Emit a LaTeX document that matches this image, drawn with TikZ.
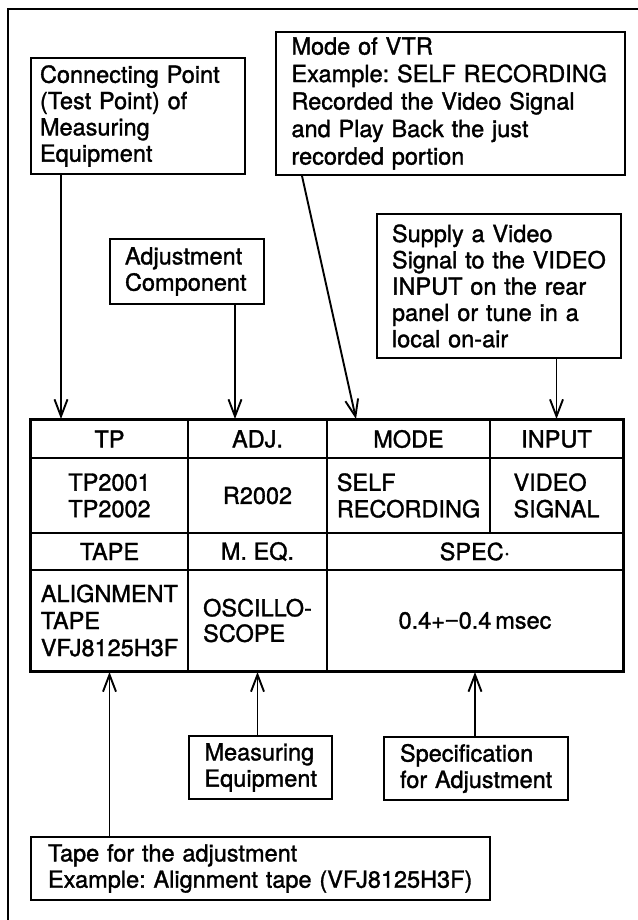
\documentclass[tikz,border=0pt]{standalone}
\usepackage{fontspec}
\setmainfont{TeX Gyre Heros}[FakeBold=1.4]
\newfontfamily\minusfont{Liberation Sans}[FakeBold=1.4]
\usetikzlibrary{arrows.meta}
\tikzset{
  lbl/.style={draw, line width=2pt, inner sep=0pt, align=left,
    font=\fontsize{23.5}{26.3}\selectfont},
  cell/.style={draw, line width=2pt, inner sep=0pt, align=left,
    font=\fontsize{23.5}{26.5}\selectfont},
  arr/.style={line width=1.9pt, -{Straight Barb[length=17pt,width=13pt,line width=1.9pt]}},
  frame/.style={line width=2pt}
}
\begin{document}
\frenchspacing
\begin{tikzpicture}[x=1pt,y=-1pt]
\useasboundingbox (0,0) rectangle (637,920);
\fill[white] (0,0) rectangle (637,920);
\draw[frame] (7.5,925) -- (7.5,9) -- (642,9);

% ---- label boxes (top)
\node[lbl, minimum width=214pt, minimum height=116pt, text width=196pt] (conn) at (138,116)
  {\mbox{Connecting Point}\\\mbox{(Test Point) of}\\Measuring\\Equipment};
\node[lbl, minimum width=349pt, minimum height=143pt, text width=318pt,
  font=\fontsize{23.5}{27.5}\selectfont] (vtr) at (450.5,103.5)
  {\mbox{Mode of VTR}\\\mbox{Example: SELF RECORDING}\\\mbox{Recorded the Video Signal}\\\mbox{and Play Back the just}\\\mbox{recorded portion}};
\node[lbl, minimum width=154pt, minimum height=65pt, text width=124pt] (adjbox) at (187,271.5)
  {\mbox{Adjustment}\\\mbox{Component}};
\node[lbl, minimum width=244pt, minimum height=144pt, text width=214pt] (supply) at (499,286)
  {\mbox{Supply a Video}\\\mbox{Signal to the VIDEO}\\\mbox{INPUT on the rear}\\\mbox{panel or tune in a}\\\mbox{local on-air}};

% ---- table
\node[cell, minimum width=157pt, minimum height=38pt] (tp)    at (109.5,439) {TP};
\node[cell, minimum width=139pt, minimum height=38pt] (adj)   at (257.5,439) {ADJ.};
\node[cell, minimum width=163pt, minimum height=38pt] (mode)  at (408.5,439) {MODE};
\node[cell, minimum width=133pt, minimum height=38pt] (input) at (556.5,439) {INPUT};
\node[cell, minimum width=157pt, minimum height=75pt] (tpv)    at (109.5,495.5) {TP2001\\TP2002};
\node[cell, minimum width=139pt, minimum height=75pt] (adjv)   at (257.5,495.5) {R2002};
\node[cell, minimum width=163pt, minimum height=75pt] (modev)  at (408.5,495.5) {SELF\\RECORDING};
\node[cell, minimum width=133pt, minimum height=75pt] (inputv) at (556.5,495.5) {VIDEO\\SIGNAL};
\node[cell, minimum width=157pt, minimum height=37pt] (tape) at (109.5,551.5) {TAPE};
\node[cell, minimum width=139pt, minimum height=37pt] (meq)  at (257.5,551.5) {M. EQ.};
\node[cell, minimum width=296pt, minimum height=37pt] (spec) at (475,551.5) {SPEC·};
\node[cell, minimum width=157pt, minimum height=101pt, font=\fontsize{23.5}{27}\selectfont] (tapev) at (109.5,620.5) {ALIGNMENT\\TAPE\\VFJ8125H3F};
\node[cell, minimum width=139pt, minimum height=101pt, font=\fontsize{23.5}{25.5}\selectfont] (meqv)  at (257.5,620.5) {OSCILLO-\\SCOPE};
\node[cell, minimum width=296pt, minimum height=101pt] (specv) at (475,620.5) {0.4+{\minusfont −}0.4\,msec};
\draw[line width=2.5pt] (tp.north west) rectangle (specv.south east);

% ---- label boxes (bottom)
\node[lbl, minimum width=143pt, minimum height=63pt, text width=112pt] (measbox) at (260.5,767.5)
  {\mbox{Measuring}\\\mbox{Equipment}};
\node[lbl, minimum width=184pt, minimum height=63pt, text width=152pt] (specbox) at (476,768.5)
  {\mbox{Specification}\\\mbox{for Adjustment}};
\node[lbl, minimum width=459pt, minimum height=63pt, text width=425pt] (tapebox) at (260.5,868.5)
  {\mbox{Tape for the adjustment}\\\mbox{Example: Alignment tape (VFJ8125H3F)}};

% ---- connectors
\draw[arr] ([xshift=31pt]conn.south west) -- ([xshift=31pt]conn.south west |- tp.north);
\draw[arr] ([xshift=-30pt]adjbox.south east) -- ([xshift=-30pt]adjbox.south east |- adj.north);
\draw[arr] ([xshift=27pt]vtr.south west) -- ([xshift=30pt]mode.north west);
\draw[arr] (supply.south -| input.north) -- (input.north);
\draw[arr] (tapev.south |- tapebox.north) -- (tapev.south);
\draw[arr] (meqv.south |- measbox.north) -- (meqv.south);
\draw[arr] (specv.south |- specbox.north) -- (specv.south);
\end{tikzpicture}
\end{document}
